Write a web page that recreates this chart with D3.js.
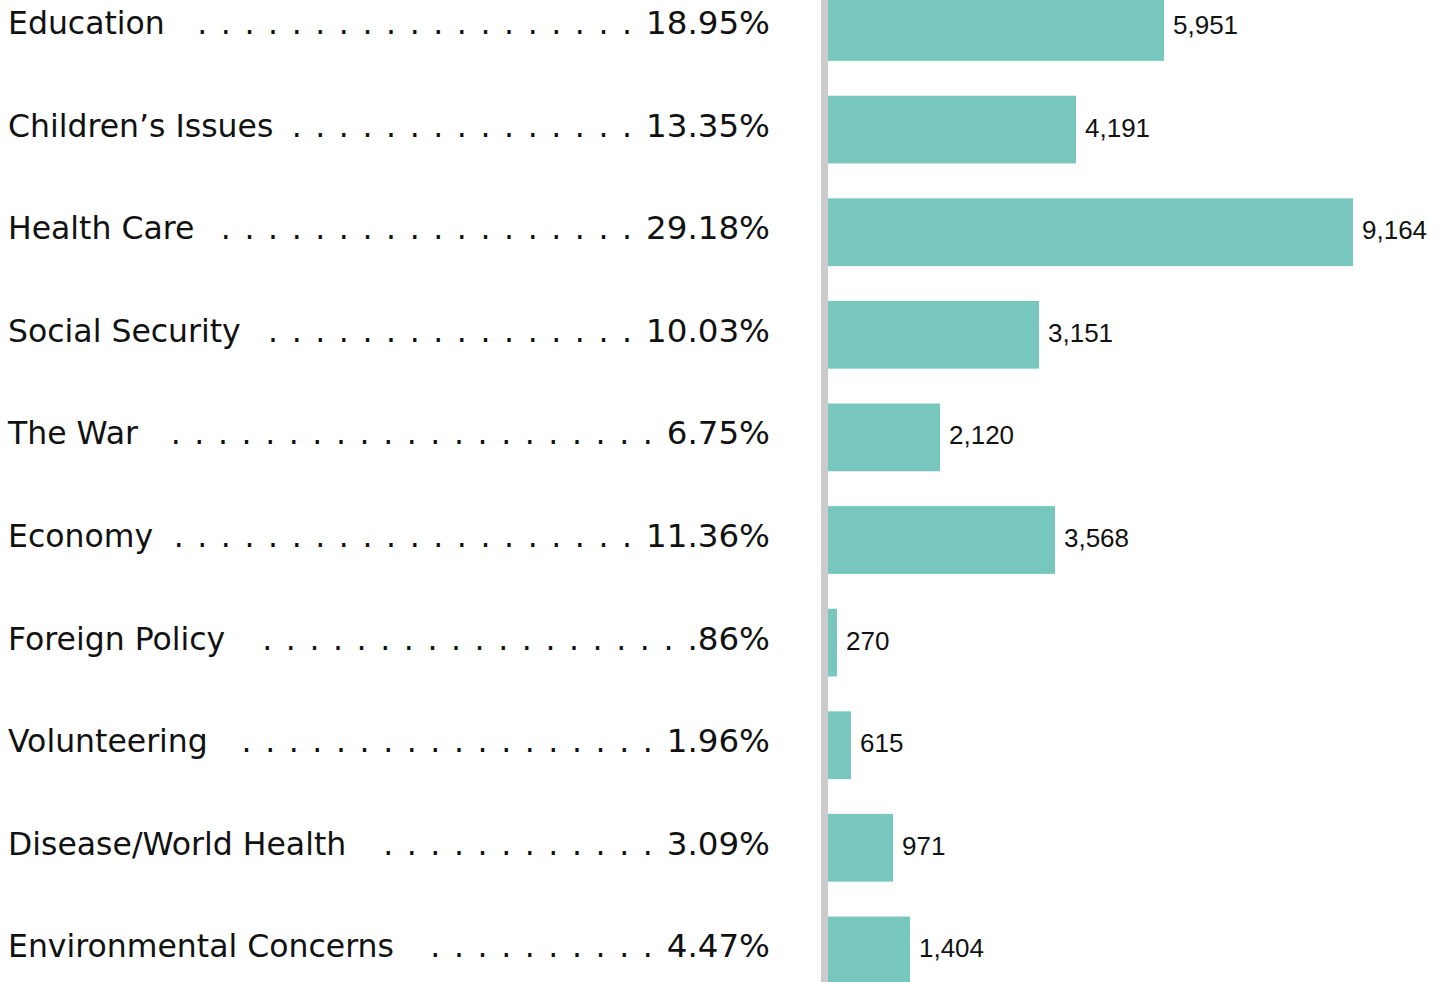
<!DOCTYPE html>
<html>
<head>
<meta charset="utf-8">
<script src="https://cdn.jsdelivr.net/npm/d3@7"></script>
<style>
  html, body { margin: 0; padding: 0; background: #fff; overflow: hidden; }
  svg { display: block; }
</style>
</head>
<body>
<svg id="chart" width="1450" height="982"></svg>
<script>
// ---- data ----
const categories = ["Education", "Children\u2019s Issues", "Health Care", "Social Security", "The War",
  "Economy", "Foreign Policy", "Volunteering", "Disease/World Health", "Environmental Concerns"];
const percentLabels = ["18.95%", "13.35%", "29.18%", "10.03%", "6.75%", "11.36%", ".86%", "1.96%", "3.09%", "4.47%"];
const counts = [5951, 4191, 9164, 3151, 2120, 3568, 270, 615, 971, 1404];
// bar lengths as drawn in the picture (in the same units as counts)
const barValues = [5865, 4329, 9164, 3683, 1955, 3962, 157, 401, 1135, 1431];

// ---- layout ----
const svg = d3.select("#chart");
const W = 1450, H = 982;
const barX0 = 828, barXMax = 1353;

const y = d3.scaleBand().domain(categories).range([-24.3, 1001.7]).paddingInner(0.34).paddingOuter(0.17);
const x = d3.scaleLinear().domain([0, 9164]).range([barX0, barXMax]);
const fmt = d3.format(",");

const labelFont = "'DejaVu Sans', Verdana, sans-serif";
const labelSize = 31.5;
const pctSize = 32.5;

const rows = categories.map((c, i) => ({ cat: c, pct: percentLabels[i], count: counts[i], bar: barValues[i] }));

// bars
svg.append("g").selectAll("rect").data(rows).join("rect")
  .attr("x", barX0)
  .attr("y", d => y(d.cat))
  .attr("width", d => x(d.bar) - barX0)
  .attr("height", y.bandwidth())
  .attr("fill", "#77c7be");

// vertical gray axis line
svg.append("rect").attr("x", 821).attr("y", 0).attr("width", 7).attr("height", H).attr("fill", "#cbcbcb");

// value labels
svg.append("g").selectAll("text").data(rows).join("text")
  .attr("x", d => x(d.bar) + 9)
  .attr("y", d => y(d.cat) + y.bandwidth() / 2 + 7)
  .attr("font-family", "'Liberation Sans', Arial, sans-serif")
  .attr("font-size", 26)
  .attr("fill", "#111")
  .text(d => fmt(d.count));

// left labels, percentages, dot leaders
const left = svg.append("g");
rows.forEach(d => {
  const cy = y(d.cat) + y.bandwidth() / 2 + 7;
  const lab = left.append("text")
    .attr("x", 8).attr("y", cy)
    .attr("font-family", labelFont).attr("font-size", labelSize).attr("fill", "#111")
    .text(d.cat);
  const pct = left.append("text")
    .attr("x", 770).attr("y", cy)
    .attr("text-anchor", "end")
    .attr("font-family", labelFont).attr("font-size", pctSize).attr("fill", "#111")
    .text(d.pct);
  const labelEnd = 8 + lab.node().getComputedTextLength();
  const pctStart = 770 - pct.node().getComputedTextLength();
  const step = 23.6;
  let dx = pctStart - 19;
  const dots = [];
  while (dx > labelEnd + 20) { dots.push(dx); dx -= step; }
  left.append("g").selectAll("text").data(dots).join("text")
    .attr("x", v => v).attr("y", cy)
    .attr("text-anchor", "middle")
    .attr("font-family", labelFont).attr("font-size", labelSize).attr("fill", "#111")
    .text(".");
});
</script>
</body>
</html>
